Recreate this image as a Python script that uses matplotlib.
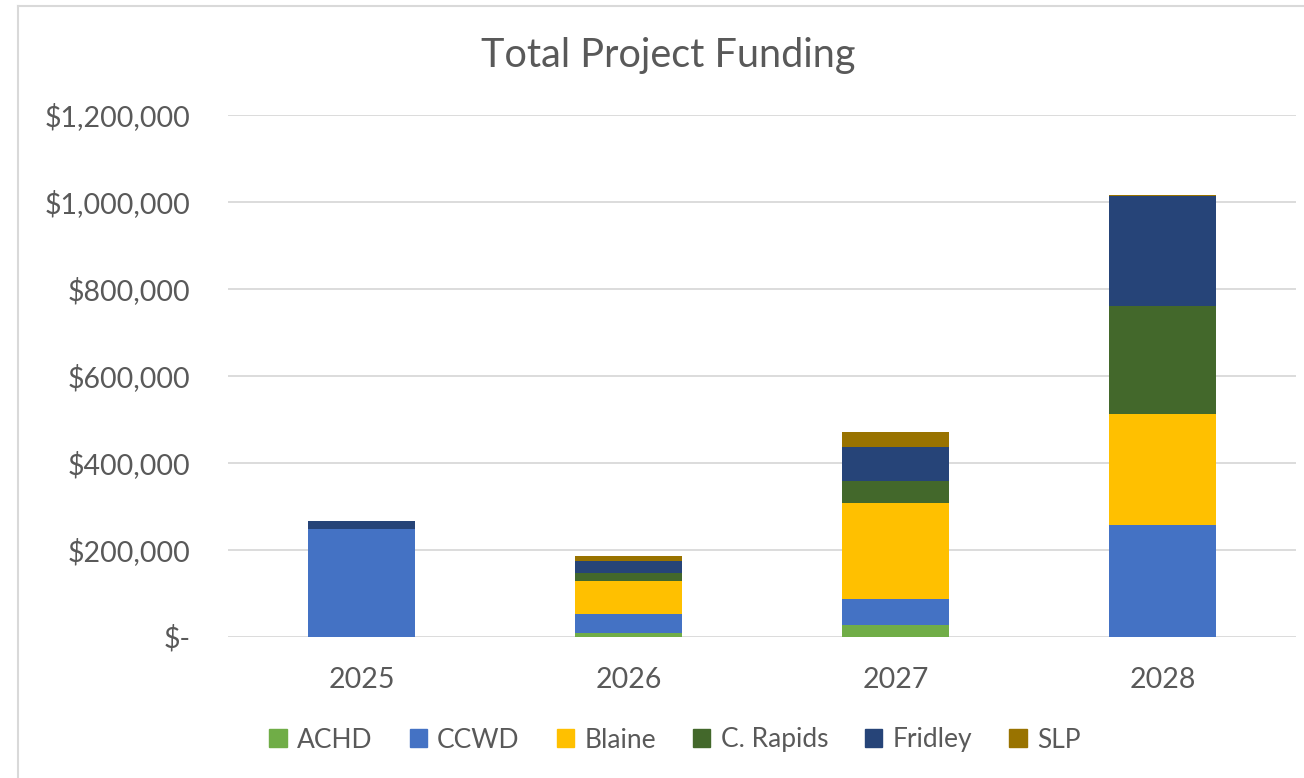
import matplotlib
matplotlib.use('Agg')
import matplotlib.pyplot as plt
from matplotlib.ticker import FuncFormatter
from matplotlib.lines import Line2D
import numpy as np

plt.rcParams['font.family'] = ['Lato', 'DejaVu Sans']

years = ['2025', '2026', '2027', '2028']
series = ['ACHD', 'CCWD', 'Blaine', 'C. Rapids', 'Fridley', 'SLP']
achd = [0, 8500, 26000, 0]
ccwd = [247000, 44000, 60000, 258000]
blaine = [0, 76000, 221000, 254000]
crapids = [0, 18000, 51000, 248000]
fridley = [18000, 28000, 79000, 253000]
slp = [0, 11500, 34000, 3500]

colors = ['#70AD47', '#4472C4', '#FFC000', '#43682B', '#264478', '#997300']
text_col = '#595959'

fig = plt.figure(figsize=(13.04, 7.78), dpi=100)
W, H = 1304, 778
ax = fig.add_axes([228 / W, 1 - 636.7 / H, (1296 - 228) / W, (636.7 - 115) / H])

x = np.arange(len(years))
bottom = np.zeros(len(years))
for name, vals, c in zip(series, [achd, ccwd, blaine, crapids, fridley, slp], colors):
    ax.bar(x, vals, 0.4, bottom=bottom, color=c, label=name, zorder=3)
    bottom += np.array(vals)

ax.set_xlim(-0.5, 3.5)
ax.set_ylim(0, 1200000)
ax.set_yticks(np.arange(0, 1200001, 200000))
ax.yaxis.set_major_formatter(FuncFormatter(lambda v, p: '$-' if v == 0 else f'${v:,.0f}'))
ax.set_xticks(x)
ax.set_xticklabels(years)
ax.grid(axis='y', color='#D9D9D9', linewidth=1.3, zorder=0)
for s in ax.spines.values():
    s.set_visible(False)
ax.tick_params(axis='both', length=0, labelsize=20.5, colors=text_col)
ax.tick_params(axis='y', pad=27)
ax.tick_params(axis='x', pad=22)

fig.text(668 / W, 1 - 55 / H, 'Total Project Funding', ha='center', va='center',
         fontsize=28.5, color=text_col)

handles = [plt.Rectangle((0, 0), 1, 1, color=c) for c in colors]
fig.legend(handles, series, loc='center', bbox_to_anchor=(675 / W, 1 - 740 / H), ncol=6,
           frameon=False, fontsize=19, labelcolor=text_col, handlelength=0.65,
           handleheight=0.65, handletextpad=0.4, columnspacing=1.4)

# chart border (top and left edges visible)
fig.add_artist(Line2D([18 / W, 1], [1 - 6 / H, 1 - 6 / H], color='#D9D9D9', linewidth=1.5))
fig.add_artist(Line2D([18 / W, 18 / W], [0, 1 - 6 / H], color='#D9D9D9', linewidth=1.5))

fig.savefig('out.png', dpi=100, facecolor='white')
